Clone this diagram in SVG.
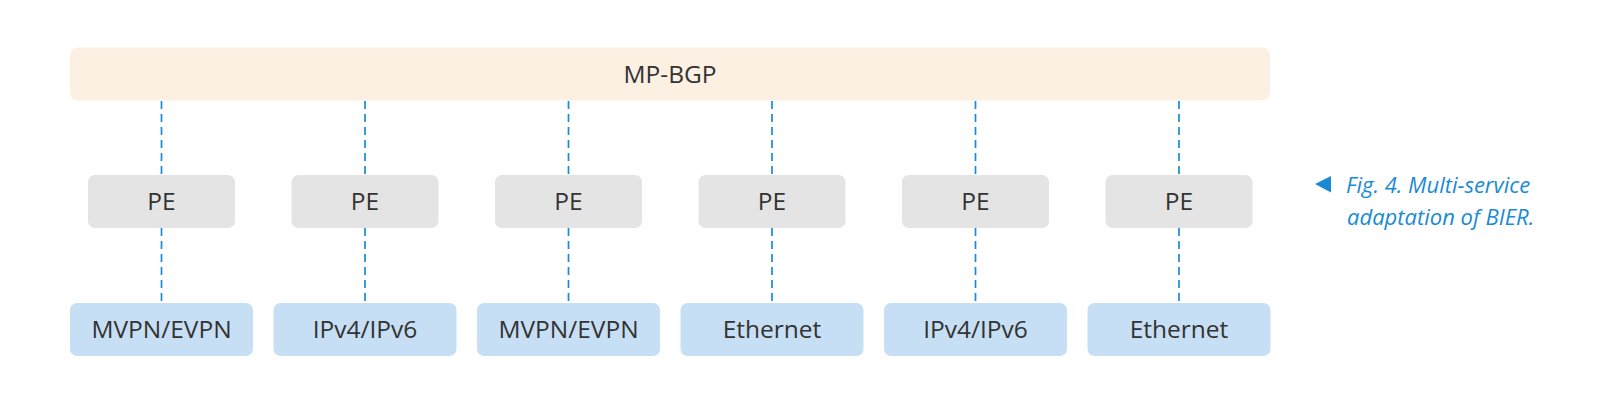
<svg xmlns="http://www.w3.org/2000/svg" width="1600" height="408" viewBox="0 0 1600 408">
<style>
.lbl{font-family:"Open Sans","Liberation Sans",sans-serif;font-size:24.5px;fill:#333;text-anchor:middle}
.bar{fill:#fcf0e3}
.pe{fill:#e4e4e4}
.svc{fill:#c7dff4}
.ln{stroke:#1a8ad4;stroke-width:1.7;stroke-dasharray:8 5;fill:none}
.cap{font-family:"Open Sans","Liberation Sans",sans-serif;font-size:22px;font-style:italic;fill:#1a8ad4}
</style>
<rect width="1600" height="408" fill="#fff"/>
<g id="connectors">
<path class="ln" d="M161.5 101V175M161.5 228V303"/>
<path class="ln" d="M365 101V175M365 228V303"/>
<path class="ln" d="M568.5 101V175M568.5 228V303"/>
<path class="ln" d="M772 101V175M772 228V303"/>
<path class="ln" d="M975.5 101V175M975.5 228V303"/>
<path class="ln" d="M1179 101V175M1179 228V303"/>
</g>
<g id="mpbgp"><rect class="bar" x="70" y="47.5" width="1200" height="53" rx="8"/><text class="lbl" x="670" y="82.5">MP-BGP</text></g>
<g id="pe1"><rect class="pe" x="88" y="175" width="147" height="53" rx="7"/><text class="lbl" x="161.5" y="210">PE</text></g>
<g id="pe2"><rect class="pe" x="291.5" y="175" width="147" height="53" rx="7"/><text class="lbl" x="365" y="210">PE</text></g>
<g id="pe3"><rect class="pe" x="495" y="175" width="147" height="53" rx="7"/><text class="lbl" x="568.5" y="210">PE</text></g>
<g id="pe4"><rect class="pe" x="698.5" y="175" width="147" height="53" rx="7"/><text class="lbl" x="772" y="210">PE</text></g>
<g id="pe5"><rect class="pe" x="902" y="175" width="147" height="53" rx="7"/><text class="lbl" x="975.5" y="210">PE</text></g>
<g id="pe6"><rect class="pe" x="1105.5" y="175" width="147" height="53" rx="7"/><text class="lbl" x="1179" y="210">PE</text></g>
<g id="svc1"><rect class="svc" x="70" y="303" width="183" height="53" rx="7"/><text class="lbl" x="161.5" y="337.5">MVPN/EVPN</text></g>
<g id="svc2"><rect class="svc" x="273.5" y="303" width="183" height="53" rx="7"/><text class="lbl" x="365" y="337.5">IPv4/IPv6</text></g>
<g id="svc3"><rect class="svc" x="477" y="303" width="183" height="53" rx="7"/><text class="lbl" x="568.5" y="337.5">MVPN/EVPN</text></g>
<g id="svc4"><rect class="svc" x="680.5" y="303" width="183" height="53" rx="7"/><text class="lbl" x="772" y="337.5">Ethernet</text></g>
<g id="svc5"><rect class="svc" x="884" y="303" width="183" height="53" rx="7"/><text class="lbl" x="975.5" y="337.5">IPv4/IPv6</text></g>
<g id="svc6"><rect class="svc" x="1087.5" y="303" width="183" height="53" rx="7"/><text class="lbl" x="1179" y="337.5">Ethernet</text></g>
<g id="caption">
<polygon points="1315,184 1331,176 1331,192.5" fill="#1a8ad4"/>
<text class="cap" x="1346" y="192.5">Fig. 4. Multi-service</text>
<text class="cap" x="1347" y="225">adaptation of BIER.</text>
</g>
</svg>
